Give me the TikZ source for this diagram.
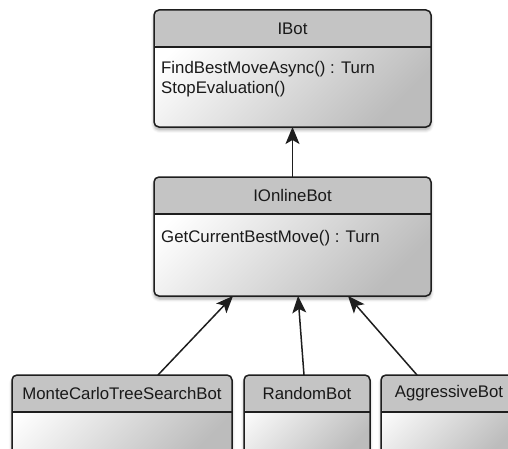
\documentclass[tikz,border=0pt]{standalone}
\usepackage{fontspec}
\setmainfont{Liberation Sans}
\usetikzlibrary{arrows.meta,calc,shadows.blur}

\definecolor{headgray}{HTML}{C4C4C4}
\definecolor{bodygray}{HTML}{BCBCBC}
\definecolor{linegray}{HTML}{1E1E1E}

\tikzset{
  umlclass/.style={
    draw=linegray, line width=1.5pt, rounded corners=5pt,
    top color=white, bottom color=bodygray, shading angle=45,
    blur shadow={shadow xshift=0pt, shadow yshift=-3pt, shadow blur radius=3pt, shadow opacity=35},
    inner sep=0pt, outer sep=0pt,
    path picture={
      \fill[headgray] (path picture bounding box.north west)
        rectangle ([yshift=-37pt]path picture bounding box.north east);
      \draw[linegray, line width=1.5pt]
        ([yshift=-37pt]path picture bounding box.north west)
        -- ([yshift=-37pt]path picture bounding box.north east);
    }
  },
  classname/.style={inner sep=0pt, anchor=center},
  member/.style={inner sep=0pt, anchor=base west},
  realize/.style={draw=linegray, line width=1.5pt,
    -{Stealth[length=17pt, width=14pt, inset=4pt]}},
  every node/.style={font=\fontsize{16.8}{20}\selectfont, text=black!90}
}

\begin{document}
\begin{tikzpicture}[x=1pt, y=1pt]
  \useasboundingbox (0,0) rectangle (508,448);

  % interface IBot
  \node[umlclass, minimum width=277pt, minimum height=117pt] (ibot) at (292.5,379.5) {};
  \node[classname] (ibotname) at ($(ibot.north)+(0,-18.5)$) {IBot};
  \node[member] (ibotm1) at (161,374) {FindBestMoveAsync() : Turn};
  \node[member] (ibotm2) at (161,354) {StopEvaluation()};

  % interface IOnlineBot
  \node[umlclass, minimum width=277pt, minimum height=119pt] (ionline) at (292.5,211.5) {};
  \node[classname] (ionlinename) at ($(ionline.north)+(0,-18.5)$) {IOnlineBot};
  \node[member] (ionlinem1) at (161,206) {GetCurrentBestMove() : Turn};

  % implementations
  \node[umlclass, minimum width=220pt, minimum height=84pt] (mcts) at (122,31) {};
  \node[classname] (mctsname) at ($(mcts.north)+(0,-18.5)$) {MonteCarloTreeSearchBot};

  \node[umlclass, minimum width=126pt, minimum height=84pt] (random) at (307,31) {};
  \node[classname] (randomname) at ($(random.north)+(0,-18.5)$) {RandomBot};

  \node[umlclass, minimum width=136pt, minimum height=84pt] (aggressive) at (449,31) {};
  \node[classname] (aggressivename) at ($(aggressive.north)+(0,-18.5)$) {AggressiveBot};

  % inheritance
  \draw[realize] (ionline.north) -- (ibot.south);
  \draw[realize] ($(mcts.north west)+(146,0)$) -- ($(ionline.south west)+(79,0)$);
  \draw[realize] ($(random.north west)+(60,0)$) -- ($(ionline.south west)+(144,0)$);
  \draw[realize] ($(aggressive.north west)+(36,0)$) -- ($(ionline.south west)+(194,0)$);
\end{tikzpicture}
\end{document}
